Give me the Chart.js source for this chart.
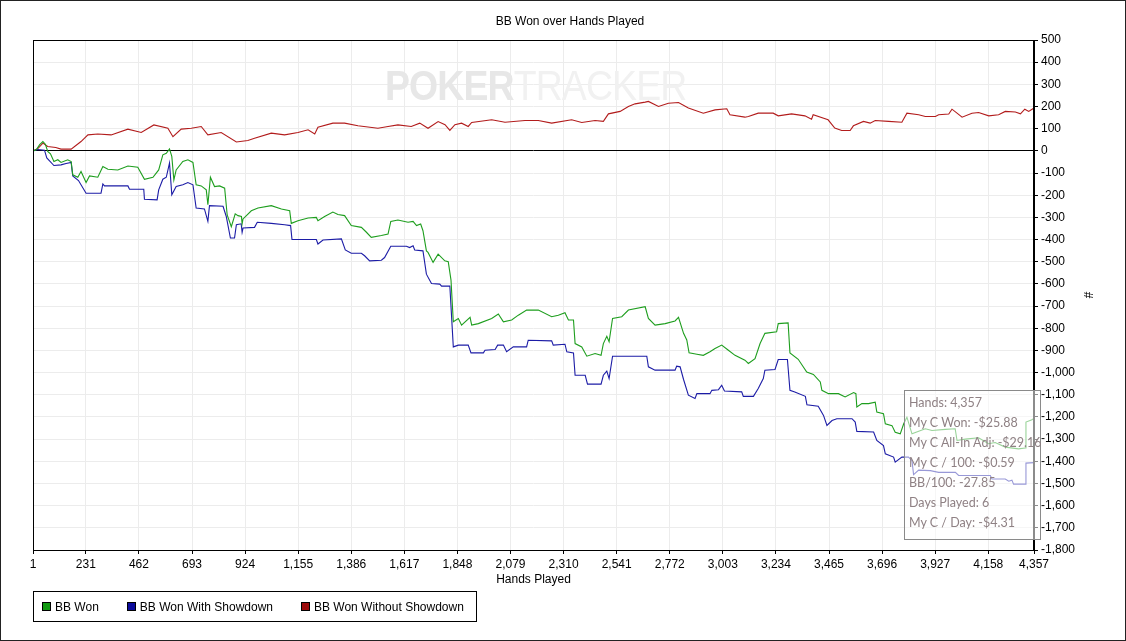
<!DOCTYPE html>
<html>
<head>
<meta charset="utf-8">
<script src="https://cdn.jsdelivr.net/npm/chart.js@4.4.0/dist/chart.umd.min.js"></script>
<style>
  html, body { margin: 0; padding: 0; background: #fff; }
  #wrap { position: relative; width: 1126px; height: 641px; overflow: hidden; }
  #c { position: absolute; left: 0; top: 0; }
  #frame { position: absolute; left: 0; top: 0; width: 1126px; height: 641px; box-sizing: border-box; border: 1px solid #222; pointer-events: none; }
  #watermark { position: absolute; left: 385px; top: 62px; height: 46px; white-space: nowrap; pointer-events: none;
               font-family: 'Liberation Sans', Arial, sans-serif; font-size: 43px; line-height: 46px; letter-spacing: -1px;
               transform: scaleX(0.87); transform-origin: left top; }
  #watermark .pk { color: #e7e7e7; font-weight: bold; }
  #watermark .tr { color: #f1f1f1; font-weight: normal; }
  #stats { position: absolute; left: 904px; top: 390px; width: 131px; height: 146px; box-sizing: content-box;
           border: 1px solid #8a8a8a; background: rgba(255,255,255,0.55); padding: 2px 0 0 4px;
           font-family: Lato, 'Open Sans', sans-serif; font-size: 12.5px; line-height: 20px; color: #8f8184; white-space: nowrap; }
  #legend { position: absolute; left: 33px; top: 591px; height: 31px; box-sizing: border-box; border: 1px solid #000;
            display: flex; align-items: center; padding: 0 12px 0 8px; gap: 28px;
            font-family: 'Liberation Sans', Arial, sans-serif; font-size: 12px; color: #000; }
  #legend .item { display: flex; align-items: center; }
  #legend .sq { width: 7px; height: 7px; border: 1px solid #000; margin-right: 4px; }
</style>
</head>
<body>
<div id="wrap">
  <canvas id="c" width="1126" height="641"></canvas>
  <div id="watermark"><span class="pk">POKER</span><span class="tr">TRACKER</span></div>
  <div id="stats"></div>
  <div id="legend"></div>
  <div id="frame"></div>
</div>
<script>
// hands played tick positions on the x axis
const xTicks = [1, 231, 462, 693, 924, 1155, 1386, 1617, 1848, 2079, 2310, 2541, 2772, 3003, 3234, 3465, 3696, 3927, 4158, 4357];

// BB Won
const wonHands = [1, 15, 30, 44, 55, 65, 77, 92, 109, 123, 152, 167, 174, 196, 210, 232, 247, 283, 305, 327, 370, 414, 457, 486, 523, 548, 566, 581, 595, 605, 614, 624, 653, 675, 697, 711, 733, 755, 762, 773, 791, 813, 835, 846, 864, 881, 893, 908, 911, 915, 951, 980, 1038, 1082, 1118, 1125, 1154, 1198, 1234, 1241, 1270, 1306, 1328, 1357, 1386, 1430, 1452, 1473, 1517, 1546, 1558, 1589, 1633, 1655, 1670, 1688, 1698, 1713, 1720, 1742, 1764, 1793, 1808, 1820, 1830, 1852, 1866, 1903, 1910, 1939, 1997, 2026, 2048, 2084, 2113, 2149, 2200, 2258, 2287, 2316, 2331, 2353, 2360, 2389, 2411, 2447, 2473, 2483, 2498, 2508, 2523, 2563, 2592, 2665, 2679, 2708, 2752, 2795, 2810, 2832, 2846, 2856, 2890, 2918, 2947, 2969, 2998, 3027, 3056, 3099, 3114, 3143, 3165, 3186, 3237, 3244, 3287, 3295, 3331, 3368, 3397, 3427, 3434, 3463, 3506, 3535, 3572, 3582, 3586, 3608, 3637, 3666, 3673, 3702, 3710, 3739, 3753, 3775, 3790, 3804, 3826, 3884, 3913, 3971, 4014, 4022, 4058, 4116, 4159, 4188, 4232, 4290, 4319, 4322, 4348, 4357];
const wonValues = [0, 5, 28, 42, 30, -2, -13, -48, -40, -52, -40, -48, -108, -119, -93, -143, -113, -119, -71, -83, -86, -68, -74, -128, -119, -86, -18, -11, 9, -25, -131, -86, -48, -40, -52, -153, -158, -176, -243, -119, -161, -158, -168, -289, -342, -284, -292, -296, -329, -307, -270, -258, -247, -262, -270, -327, -315, -303, -300, -315, -296, -276, -287, -292, -337, -345, -367, -390, -382, -375, -318, -312, -322, -318, -337, -330, -360, -451, -458, -503, -466, -496, -500, -583, -771, -756, -786, -751, -786, -779, -756, -736, -771, -763, -741, -718, -718, -748, -741, -730, -763, -763, -869, -884, -926, -914, -922, -869, -836, -861, -756, -748, -718, -703, -756, -786, -779, -767, -751, -823, -853, -911, -917, -922, -906, -891, -876, -899, -922, -944, -959, -937, -869, -823, -816, -779, -776, -911, -940, -997, -1008, -1042, -1080, -1095, -1095, -1110, -1090, -1095, -1155, -1140, -1140, -1133, -1178, -1185, -1231, -1239, -1269, -1276, -1231, -1201, -1276, -1253, -1261, -1256, -1253, -1306, -1300, -1294, -1321, -1315, -1336, -1344, -1340, -1223, -1213, -1205];

// BB Won With Showdown
const sdHands = [1, 22, 51, 61, 92, 123, 145, 167, 174, 199, 232, 297, 305, 312, 414, 421, 483, 486, 541, 548, 566, 581, 595, 605, 624, 653, 675, 697, 711, 747, 762, 769, 828, 842, 860, 878, 886, 907, 911, 915, 965, 977, 1038, 1096, 1122, 1128, 1234, 1241, 1263, 1343, 1360, 1386, 1430, 1444, 1466, 1517, 1531, 1558, 1626, 1640, 1655, 1662, 1698, 1713, 1735, 1771, 1779, 1815, 1830, 1852, 1895, 1907, 1961, 1968, 2012, 2023, 2048, 2062, 2091, 2149, 2156, 2258, 2265, 2316, 2324, 2353, 2360, 2404, 2414, 2473, 2483, 2498, 2508, 2523, 2672, 2679, 2708, 2795, 2802, 2817, 2832, 2853, 2882, 2890, 2947, 2955, 2984, 2998, 3010, 3085, 3092, 3136, 3157, 3179, 3186, 3230, 3244, 3284, 3295, 3316, 3362, 3369, 3418, 3441, 3456, 3478, 3499, 3565, 3579, 3586, 3659, 3673, 3702, 3710, 3746, 3753, 3782, 3811, 3826, 3833, 3855, 3906, 3942, 4015, 4029, 4167, 4174, 4232, 4247, 4261, 4268, 4319, 4322, 4357];
const sdValues = [0, 6, 3, -32, -66, -63, -57, -52, -113, -134, -191, -191, -149, -158, -158, -173, -173, -218, -221, -176, -128, -119, -55, -198, -161, -153, -143, -153, -258, -262, -318, -247, -250, -296, -393, -393, -333, -329, -367, -348, -345, -322, -327, -333, -337, -400, -400, -420, -402, -397, -447, -462, -462, -473, -496, -493, -481, -430, -430, -436, -428, -447, -451, -556, -598, -601, -610, -610, -884, -876, -876, -911, -911, -899, -896, -876, -876, -906, -884, -884, -854, -857, -876, -872, -906, -911, -1012, -1012, -1052, -1052, -1012, -993, -1027, -926, -926, -974, -989, -989, -971, -974, -1031, -1102, -1117, -1095, -1095, -1080, -1077, -1057, -1083, -1087, -1107, -1107, -1072, -1027, -989, -986, -941, -941, -1080, -1087, -1107, -1145, -1152, -1193, -1238, -1216, -1208, -1208, -1223, -1265, -1268, -1306, -1329, -1366, -1381, -1404, -1381, -1381, -1397, -1460, -1440, -1442, -1450, -1450, -1464, -1464, -1480, -1480, -1490, -1485, -1503, -1503, -1408, -1406];

// BB Won Without Showdown
const nsdHands = [1, 22, 44, 65, 100, 123, 167, 210, 240, 283, 341, 414, 472, 527, 588, 610, 646, 690, 733, 762, 820, 886, 936, 965, 1038, 1096, 1154, 1198, 1227, 1241, 1306, 1357, 1415, 1502, 1546, 1589, 1647, 1684, 1720, 1764, 1794, 1815, 1837, 1866, 1895, 1910, 1997, 2055, 2142, 2200, 2258, 2345, 2389, 2447, 2483, 2505, 2556, 2592, 2621, 2665, 2679, 2723, 2766, 2810, 2853, 2918, 2969, 3020, 3034, 3099, 3114, 3157, 3222, 3244, 3302, 3360, 3389, 3396, 3461, 3490, 3520, 3557, 3571, 3615, 3644, 3666, 3724, 3782, 3804, 3855, 3884, 3928, 3942, 3986, 4000, 4022, 4044, 4087, 4116, 4160, 4203, 4232, 4276, 4298, 4317, 4334, 4357];
const nsdValues = [0, 10, 35, 20, 15, 8, 8, 42, 72, 76, 72, 98, 83, 117, 102, 64, 98, 102, 110, 72, 83, 40, 47, 57, 80, 72, 83, 95, 76, 107, 125, 125, 113, 102, 110, 117, 110, 125, 102, 132, 118, 92, 118, 125, 110, 128, 140, 129, 137, 137, 125, 140, 128, 137, 133, 167, 178, 200, 212, 220, 223, 200, 215, 218, 193, 170, 185, 190, 163, 152, 155, 170, 170, 158, 167, 158, 143, 163, 140, 103, 92, 92, 113, 133, 125, 137, 133, 129, 170, 163, 155, 155, 163, 166, 188, 170, 152, 170, 173, 158, 163, 178, 175, 167, 188, 178, 193];

const seriesLabels = ['BB Won', 'BB Won With Showdown', 'BB Won Without Showdown'];
const seriesColors = ['#1e9e1e', '#1c1ca6', '#b21c1c'];
const legendColors = ['#119911', '#0b0b9c', '#9c0b0b'];

const statLines = ['Hands: 4,357', 'My C Won: -$25.88', 'My C All-In Adj: -$29.16', 'My C / 100: -$0.59', 'BB/100: -27.85', 'Days Played: 6', 'My C / Day: -$4.31'];

function toPoints(xs, ys) {
    return xs.map((x, i) => ({ x: x, y: ys[i] }));
}

const fmt = v => Number(v).toLocaleString('en-US');

Chart.defaults.font.family = "'Liberation Sans', Arial, sans-serif";
Chart.defaults.font.size = 12;
Chart.defaults.color = '#000';

// black box round the plot area
const plotFrame = {
    id: 'plotFrame',
    afterDraw(chart) {
        const a = chart.chartArea;
        const ctx = chart.ctx;
        ctx.save();
        ctx.strokeStyle = '#000';
        ctx.lineWidth = 1;
        ctx.strokeRect(Math.round(a.left) + 0.5, Math.round(a.top) + 0.5,
            Math.round(a.right - a.left) - 1, Math.round(a.bottom - a.top));
        ctx.restore();
    }
};

const chart = new Chart(document.getElementById('c'), {
    type: 'line',
    data: {
        datasets: [
            { label: seriesLabels[0], data: toPoints(wonHands, wonValues), borderColor: seriesColors[0], backgroundColor: legendColors[0] },
            { label: seriesLabels[1], data: toPoints(sdHands, sdValues), borderColor: seriesColors[1], backgroundColor: legendColors[1] },
            { label: seriesLabels[2], data: toPoints(nsdHands, nsdValues), borderColor: seriesColors[2], backgroundColor: legendColors[2] }
        ]
    },
    options: {
        responsive: false,
        animation: false,
        layout: { padding: { left: 33, right: 19, top: 0, bottom: 51 } },
        elements: {
            line: { borderWidth: 1.1, tension: 0 },
            point: { radius: 0 }
        },
        plugins: {
            legend: { display: false },
            tooltip: { enabled: false },
            title: {
                display: true,
                text: 'BB Won over Hands Played',
                font: { size: 12, weight: 'normal' },
                color: '#000',
                padding: { top: 14, bottom: 11.6 }
            }
        },
        scales: {
            x: {
                type: 'linear',
                position: 'bottom',
                min: 1,
                max: 4357,
                afterBuildTicks: s => { s.ticks = xTicks.map(v => ({ value: v })); },
                afterFit: s => { s.height = 40; },
                ticks: { callback: v => fmt(v), autoSkip: false, maxRotation: 0, padding: 3, color: '#000' },
                grid: { color: '#ececec', tickColor: '#000', tickLength: 4 },
                border: { color: '#000' },
                title: { display: true, text: 'Hands Played', color: '#000', font: { size: 12 }, padding: { top: 2, bottom: 2.8 } }
            },
            y: {
                position: 'right',
                min: -1800,
                max: 500,
                afterFit: s => { s.width = 73; },
                ticks: { stepSize: 100, callback: v => fmt(v), padding: 3, color: '#000' },
                grid: {
                    color: c => (c.tick && c.tick.value === 0) ? '#000' : '#ececec',
                    tickColor: '#000',
                    tickLength: 4
                },
                border: { color: '#000' },
                title: { display: true, text: '#', color: '#000', font: { size: 12 }, padding: { top: 12, bottom: 0 } }
            }
        }
    },
    plugins: [plotFrame]
});

// legend and stats panel from the chart's own data
const legendEl = document.getElementById('legend');
chart.data.datasets.forEach(ds => {
    const item = document.createElement('div');
    item.className = 'item';
    const sq = document.createElement('span');
    sq.className = 'sq';
    sq.style.background = ds.backgroundColor;
    const txt = document.createElement('span');
    txt.textContent = ds.label;
    item.appendChild(sq);
    item.appendChild(txt);
    legendEl.appendChild(item);
});

const statsEl = document.getElementById('stats');
statLines.forEach(line => {
    const d = document.createElement('div');
    d.textContent = line;
    statsEl.appendChild(d);
});
</script>
</body>
</html>
